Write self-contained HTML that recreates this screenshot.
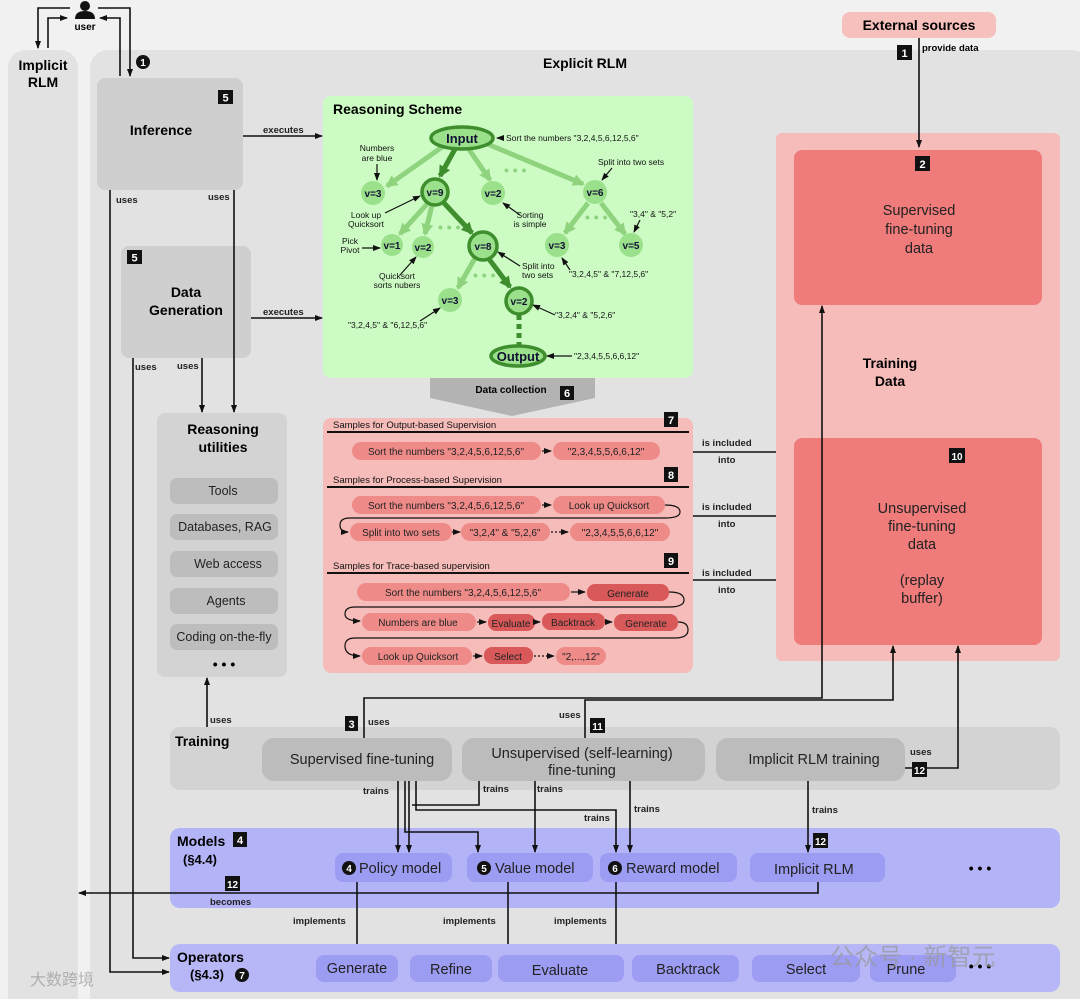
<!DOCTYPE html>
<html><head><meta charset="utf-8"><style>
html,body{margin:0;padding:0;background:#f1f1f1;}
svg{display:block;font-family:"Liberation Sans","Noto Sans CJK SC",sans-serif;}
.b{font-weight:bold}
</style></head><body>
<svg width="1080" height="999" viewBox="0 0 1080 999" xmlns="http://www.w3.org/2000/svg">
<defs>
<marker id="a" markerWidth="8" markerHeight="8" refX="7" refY="4" orient="auto" markerUnits="userSpaceOnUse"><path d="M0,1 L8,4 L0,7 z" fill="#111"/></marker>
<marker id="g" markerWidth="12" markerHeight="12" refX="10" refY="6" orient="auto" markerUnits="userSpaceOnUse"><path d="M0,0 L12,6 L0,12 z" fill="#8fd37e"/></marker>
<marker id="gd" markerWidth="12" markerHeight="12" refX="10" refY="6" orient="auto" markerUnits="userSpaceOnUse"><path d="M0,0 L12,6 L0,12 z" fill="#3e8e2e"/></marker>
</defs>
<rect width="1080" height="999" fill="#f1f1f1"/>
<!-- columns -->
<rect x="8" y="50" width="70" height="970" rx="18" fill="#e2e2e2"/>
<text x="43" y="70" text-anchor="middle" class="b" font-size="14">Implicit</text>
<text x="43" y="87" text-anchor="middle" class="b" font-size="14">RLM</text>
<rect x="90" y="50" width="1000" height="970" rx="18" fill="#e2e2e2"/>
<text x="585" y="68" text-anchor="middle" class="b" font-size="14">Explicit RLM</text>
<!-- user -->
<circle cx="85" cy="6" r="5" fill="#111"/><path d="M75,19 Q75,11 85,11 Q95,11 95,19 z" fill="#111"/>
<text x="85" y="30" text-anchor="middle" class="b" font-size="10">user</text>
<g stroke="#111" stroke-width="1.6" fill="none">
<path d="M70,8 H38 V48" marker-end="url(#a)"/>
<path d="M48,48 V18 H67" marker-end="url(#a)"/>
<path d="M120,76 V18 H100" marker-end="url(#a)"/>
<path d="M98,8 H130 V76" marker-end="url(#a)"/>
</g>
<circle cx="143" cy="62" r="7" fill="#111"/><text x="143" y="66" text-anchor="middle" fill="#fff" class="b" font-size="10">1</text>
<!-- inference -->
<rect x="97" y="78" width="146" height="112" rx="8" fill="#cfcfcf"/>
<text x="161" y="135" text-anchor="middle" class="b" font-size="14">Inference</text>
<rect x="218" y="90" width="15" height="14" fill="#111"/><text x="225.5" y="101.5" text-anchor="middle" fill="#fff" class="b" font-size="11">5</text>
<rect x="121" y="246" width="130" height="112" rx="8" fill="#cfcfcf"/>
<text x="186" y="297" text-anchor="middle" class="b" font-size="14">Data</text>
<text x="186" y="315" text-anchor="middle" class="b" font-size="14">Generation</text>
<rect x="127" y="250" width="15" height="14" fill="#111"/><text x="134.5" y="261.5" text-anchor="middle" fill="#fff" class="b" font-size="11">5</text>
<!-- reasoning utilities -->
<rect x="157" y="413" width="130" height="264" rx="8" fill="#d3d3d3"/>
<text x="223" y="434" text-anchor="middle" class="b" font-size="14">Reasoning</text>
<text x="223" y="452" text-anchor="middle" class="b" font-size="14">utilities</text>
<g fill="#bdbdbd"><rect x="170" y="478" width="108" height="26" rx="7"/><rect x="170" y="514" width="108" height="26" rx="7"/><rect x="170" y="551" width="108" height="26" rx="7"/><rect x="170" y="588" width="108" height="26" rx="7"/><rect x="170" y="624" width="108" height="26" rx="7"/></g>
<g font-size="12.5" text-anchor="middle" fill="#222"><text x="223" y="495">Tools</text><text x="225" y="531">Databases, RAG</text><text x="228" y="568">Web access</text><text x="226" y="605">Agents</text><text x="224" y="641">Coding on-the-fly</text></g>
<text x="224" y="669" text-anchor="middle" class="b" font-size="14">• • •</text>
<!-- left connectors -->
<g stroke="#111" stroke-width="1.6" fill="none">
<path d="M243,136 H322" marker-end="url(#a)"/>
<path d="M251,318 H322" marker-end="url(#a)"/>
<path d="M234,190 V412" marker-end="url(#a)"/>
<path d="M202,358 V412" marker-end="url(#a)"/>
<path d="M110,190 V972 H169" marker-end="url(#a)"/>
<path d="M133,358 V958 H169" marker-end="url(#a)"/>
<path d="M207,727 V678" marker-end="url(#a)"/>
</g>
<g font-size="9.5" class="b" fill="#222">
<text x="263" y="133">executes</text><text x="263" y="315">executes</text>
<text x="116" y="203">uses</text><text x="208" y="200">uses</text>
<text x="135" y="370">uses</text><text x="177" y="369">uses</text>
<text x="210" y="723">uses</text>
</g>
<!-- reasoning scheme -->
<rect x="323" y="96" width="370" height="282" rx="8" fill="#ccfcc4"/>
<text x="333" y="114" class="b" font-size="14">Reasoning Scheme</text>
<g stroke="#8fd37e" stroke-width="5" fill="none">
<line x1="445" y1="145" x2="387" y2="186" marker-end="url(#g)"/>
<line x1="468" y1="148" x2="490" y2="180" marker-end="url(#g)"/>
<line x1="485" y1="143" x2="583" y2="184" marker-end="url(#g)"/>
<line x1="427" y1="204" x2="400" y2="234" marker-end="url(#g)"/>
<line x1="432" y1="205" x2="425" y2="234" marker-end="url(#g)"/>
<line x1="588" y1="203" x2="565" y2="233" marker-end="url(#g)"/>
<line x1="601" y1="203" x2="625" y2="234" marker-end="url(#g)"/>
<line x1="475" y1="258" x2="458" y2="288" marker-end="url(#g)"/>
</g>
<g stroke="#3e8e2e" stroke-width="5" fill="none">
<line x1="455" y1="149" x2="440" y2="176" marker-end="url(#gd)"/>
<line x1="444" y1="203" x2="472" y2="233" marker-end="url(#gd)"/>
<line x1="489" y1="259" x2="510" y2="287" marker-end="url(#gd)"/>
<line x1="519" y1="315" x2="519" y2="345" stroke-dasharray="5,4"/>
</g>
<g fill="#8fd67f"><circle cx="462" cy="168" r="0"/></g>
<g fill="#9be08a">
<circle cx="373" cy="193" r="12"/><circle cx="493" cy="193" r="12"/><circle cx="595" cy="192" r="12"/>
<circle cx="392" cy="245" r="11"/><circle cx="423" cy="247" r="11"/><circle cx="557" cy="245" r="12"/><circle cx="631" cy="245" r="12"/><circle cx="450" cy="300" r="12"/>
</g>
<g fill="#9be08a" stroke="#3e8e2e" stroke-width="3.5">
<ellipse cx="462" cy="138" rx="31" ry="11"/>
<circle cx="435" cy="192" r="13"/><circle cx="483" cy="246" r="14"/><circle cx="519" cy="301" r="13"/>
<ellipse cx="518" cy="356" rx="27" ry="10"/>
</g>
<g class="b" text-anchor="middle" font-size="10" fill="#113">
<text x="462" y="143" font-size="13">Input</text><text x="518" y="361" font-size="13">Output</text>
<text x="373" y="197">v=3</text><text x="435" y="196">v=9</text><text x="493" y="197">v=2</text><text x="595" y="196">v=6</text>
<text x="392" y="249">v=1</text><text x="423" y="251">v=2</text><text x="483" y="250">v=8</text><text x="557" y="249">v=3</text><text x="631" y="249">v=5</text>
<text x="450" y="304">v=3</text><text x="519" y="305">v=2</text>
</g>
<g fill="#8fd37e" font-size="14" class="b"><text x="504" y="175">• • •</text><text x="585" y="222">• • •</text><text x="438" y="232">• • •</text><text x="473" y="280">• • •</text></g>
<g font-size="8.5" fill="#111">
<text x="506" y="141">Sort the numbers "3,2,4,5,6,12,5,6"</text>
<text x="377" y="151" text-anchor="middle">Numbers</text><text x="377" y="161" text-anchor="middle">are blue</text>
<text x="598" y="165">Split into two sets</text>
<text x="366" y="218" text-anchor="middle">Look up</text><text x="366" y="227" text-anchor="middle">Quicksort</text>
<text x="530" y="218" text-anchor="middle">Sorting</text><text x="530" y="227" text-anchor="middle">is simple</text>
<text x="630" y="217">"3,4" &amp; "5,2"</text>
<text x="350" y="244" text-anchor="middle">Pick</text><text x="350" y="253" text-anchor="middle">Pivot</text>
<text x="397" y="279" text-anchor="middle">Quicksort</text><text x="397" y="288" text-anchor="middle">sorts nubers</text>
<text x="522" y="269">Split into</text><text x="522" y="278">two sets</text>
<text x="569" y="277">"3,2,4,5" &amp; "7,12,5,6"</text>
<text x="348" y="328">"3,2,4,5" &amp; "6,12,5,6"</text>
<text x="555" y="318">"3,2,4" &amp; "5,2,6"</text>
<text x="574" y="359">"2,3,4,5,5,6,6,12"</text>
</g>
<g stroke="#111" stroke-width="1.2" fill="none">
<path d="M504,138 H497" marker-end="url(#a)"/>
<path d="M377,164 V180" marker-end="url(#a)"/>
<path d="M612,168 L602,180" marker-end="url(#a)"/>
<path d="M385,213 L420,196" marker-end="url(#a)"/>
<path d="M520,215 L503,203" marker-end="url(#a)"/>
<path d="M640,220 L634,232" marker-end="url(#a)"/>
<path d="M362,248 H380" marker-end="url(#a)"/>
<path d="M400,275 L416,257" marker-end="url(#a)"/>
<path d="M520,266 L498,252" marker-end="url(#a)"/>
<path d="M570,270 L562,258" marker-end="url(#a)"/>
<path d="M420,321 L440,308" marker-end="url(#a)"/>
<path d="M555,315 L533,305" marker-end="url(#a)"/>
<path d="M572,356 H547" marker-end="url(#a)"/>
</g>
<!-- data collection arrow -->
<path d="M430,378 H595 V398 L512,416 L430,398 z" fill="#b3b3b3"/>
<text x="511" y="393" text-anchor="middle" class="b" font-size="10">Data collection</text>
<rect x="560" y="386" width="14" height="14" fill="#111"/><text x="567" y="397" text-anchor="middle" fill="#fff" class="b" font-size="11">6</text>
<!-- samples -->
<rect x="323" y="418" width="370" height="255" rx="8" fill="#f5bcb9"/>
<g font-size="9.5" fill="#111">
<text x="333" y="428">Samples for Output-based Supervision</text>
<text x="333" y="483">Samples for Process-based Supervision</text>
<text x="333" y="569">Samples for Trace-based supervision</text>
</g>
<g stroke="#111" stroke-width="2"><line x1="327" y1="432" x2="689" y2="432"/><line x1="327" y1="487" x2="689" y2="487"/><line x1="327" y1="573" x2="689" y2="573"/></g>
<g fill="#111"><rect x="664" y="412" width="14" height="15"/><rect x="664" y="467" width="14" height="15"/><rect x="664" y="553" width="14" height="15"/></g>
<g fill="#fff" class="b" font-size="11" text-anchor="middle"><text x="671" y="424">7</text><text x="671" y="479">8</text><text x="671" y="565">9</text></g>
<g fill="#ee8b89">
<rect x="352" y="442" width="189" height="18" rx="9"/><rect x="553" y="442" width="107" height="18" rx="9"/>
<rect x="352" y="496" width="189" height="18" rx="9"/><rect x="553" y="496" width="112" height="18" rx="9"/>
<rect x="350" y="523" width="102" height="18" rx="9"/><rect x="461" y="523" width="89" height="18" rx="9"/><rect x="570" y="523" width="100" height="18" rx="9"/>
<rect x="357" y="583" width="213" height="18" rx="9"/><rect x="362" y="613" width="114" height="18" rx="9"/><rect x="362" y="647" width="110" height="18" rx="9"/><rect x="556" y="647" width="50" height="18" rx="9"/>
</g>
<g fill="#d9595a">
<rect x="587" y="584" width="82" height="17" rx="8"/><rect x="488" y="614" width="47" height="17" rx="8"/><rect x="542" y="613" width="63" height="17" rx="8"/><rect x="614" y="614" width="64" height="17" rx="8"/><rect x="484" y="647" width="49" height="17" rx="8"/>
</g>
<g font-size="10" fill="#222" text-anchor="middle">
<text x="446" y="455">Sort the numbers "3,2,4,5,6,12,5,6"</text><text x="606" y="455">"2,3,4,5,5,6,6,12"</text>
<text x="446" y="509">Sort the numbers "3,2,4,5,6,12,5,6"</text><text x="609" y="509">Look up Quicksort</text>
<text x="401" y="536">Split into two sets</text><text x="505" y="536">"3,2,4" &amp; "5,2,6"</text><text x="620" y="536">"2,3,4,5,5,6,6,12"</text>
<text x="463" y="596">Sort the numbers "3,2,4,5,6,12,5,6"</text><text x="628" y="597">Generate</text>
<text x="418" y="626">Numbers are blue</text><text x="511" y="627">Evaluate</text><text x="573" y="626">Backtrack</text><text x="646" y="627">Generate</text>
<text x="418" y="660">Look up Quicksort</text><text x="508" y="660">Select</text><text x="581" y="660">"2,...,12"</text>
</g>
<g stroke="#111" stroke-width="1.2" fill="none">
<path d="M542,451 H551" marker-end="url(#a)"/><path d="M542,505 H551" marker-end="url(#a)"/>
<path d="M665,505 Q680,505 680,512 Q680,518 665,518 H350 Q340,518 340,525 Q340,532 348,532" marker-end="url(#a)"/>
<path d="M452,532 H460" marker-end="url(#a)"/><path d="M551,532 H568" stroke-dasharray="2,2" marker-end="url(#a)"/>
<path d="M571,592 H585" marker-end="url(#a)"/>
<path d="M669,592 Q684,592 684,600 Q684,607 669,607 H355 Q345,607 345,614 Q345,621 360,621" marker-end="url(#a)"/>
<path d="M477,622 H486" marker-end="url(#a)"/><path d="M535,622 H540" marker-end="url(#a)"/><path d="M605,622 H612" marker-end="url(#a)"/>
<path d="M678,622 Q688,622 688,630 Q688,638 675,638 H355 Q345,638 345,646 Q345,656 360,656" marker-end="url(#a)"/>
<path d="M473,656 H482" marker-end="url(#a)"/><path d="M534,656 H554" stroke-dasharray="2,2" marker-end="url(#a)"/>
</g>
<!-- included into -->
<g stroke="#111" stroke-width="1.6" fill="none">
<path d="M693,452 H793" marker-end="url(#a)"/><path d="M693,516 H793" marker-end="url(#a)"/><path d="M693,580 H793" marker-end="url(#a)"/>
</g>
<g font-size="9.5" class="b" fill="#222">
<text x="702" y="446">is included</text><text x="718" y="463">into</text>
<text x="702" y="510">is included</text><text x="718" y="527">into</text>
<text x="702" y="576">is included</text><text x="718" y="593">into</text>
</g>
<!-- external & training data -->
<rect x="842" y="12" width="154" height="26" rx="8" fill="#f6c0bd"/>
<text x="919" y="30" text-anchor="middle" class="b" font-size="14">External sources</text>
<rect x="897" y="45" width="15" height="15" fill="#111"/><text x="904.5" y="57" text-anchor="middle" fill="#fff" class="b" font-size="11">1</text>
<text x="922" y="51" class="b" font-size="9.5">provide data</text>
<rect x="776" y="133" width="284" height="528" rx="6" fill="#f5bcb9"/>
<rect x="794" y="150" width="248" height="155" rx="8" fill="#ef7b7b"/>
<rect x="794" y="438" width="248" height="207" rx="8" fill="#ef7b7b"/>
<rect x="915" y="156" width="15" height="15" fill="#111"/><text x="922.5" y="168" text-anchor="middle" fill="#fff" class="b" font-size="11">2</text>
<rect x="949" y="448" width="16" height="15" fill="#111"/><text x="957" y="460" text-anchor="middle" fill="#fff" class="b" font-size="10">10</text>
<g text-anchor="middle" font-size="14.5" fill="#222">
<text x="919" y="215">Supervised</text><text x="919" y="234">fine-tuning</text><text x="919" y="253">data</text>
<text x="922" y="513">Unsupervised</text><text x="922" y="531">fine-tuning</text><text x="922" y="549">data</text>
<text x="922" y="585">(replay</text><text x="922" y="603">buffer)</text>
</g>
<text x="890" y="368" text-anchor="middle" class="b" font-size="14">Training</text>
<text x="890" y="386" text-anchor="middle" class="b" font-size="14">Data</text>
<!-- training row -->
<rect x="170" y="727" width="890" height="63" rx="10" fill="#d3d3d3"/>
<text x="175" y="746" class="b" font-size="14">Training</text>
<g fill="#bcbcbc"><rect x="262" y="738" width="190" height="43" rx="12"/><rect x="462" y="738" width="243" height="43" rx="12"/><rect x="716" y="738" width="189" height="43" rx="12"/></g>
<g text-anchor="middle" font-size="14.5" fill="#222">
<text x="362" y="764">Supervised fine-tuning</text>
<text x="582" y="758">Unsupervised (self-learning)</text><text x="582" y="775">fine-tuning</text>
<text x="814" y="764">Implicit RLM training</text>
</g>
<g stroke="#111" stroke-width="1.6" fill="none">
<path d="M919,38 V147" marker-end="url(#a)"/>
<path d="M364,738 V698 H822 V306" marker-end="url(#a)"/>
<path d="M585,738 V700 H893 V646" marker-end="url(#a)"/>
<path d="M905,768 H958 V646" marker-end="url(#a)"/>
</g>
<rect x="345" y="716" width="13" height="15" fill="#111"/><text x="351.5" y="728" text-anchor="middle" fill="#fff" class="b" font-size="11">3</text>
<rect x="590" y="718" width="15" height="15" fill="#111"/><text x="597.5" y="730" text-anchor="middle" fill="#fff" class="b" font-size="10">11</text>
<rect x="912" y="762" width="15" height="15" fill="#111"/><text x="919.5" y="774" text-anchor="middle" fill="#fff" class="b" font-size="10">12</text>
<g font-size="9.5" class="b" fill="#222"><text x="368" y="725">uses</text><text x="559" y="718">uses</text><text x="910" y="755">uses</text></g>
<!-- models -->
<rect x="170" y="828" width="890" height="80" rx="10" fill="#b3b3f7"/>
<text x="177" y="846" class="b" font-size="14">Models</text><text x="183" y="864" class="b" font-size="13">(§4.4)</text>
<rect x="233" y="832" width="14" height="15" fill="#111"/><text x="240" y="844" text-anchor="middle" fill="#fff" class="b" font-size="11">4</text>
<g fill="#9c9cf3"><rect x="335" y="853" width="117" height="29" rx="8"/><rect x="467" y="853" width="126" height="29" rx="8"/><rect x="600" y="853" width="137" height="29" rx="8"/><rect x="750" y="853" width="135" height="29" rx="8"/></g>
<g fill="#111"><circle cx="349" cy="868" r="7"/><circle cx="484" cy="868" r="7"/><circle cx="615" cy="868" r="7"/></g>
<g fill="#fff" class="b" font-size="10" text-anchor="middle"><text x="349" y="872">4</text><text x="484" y="872">5</text><text x="615" y="872">6</text></g>
<g font-size="14.5" fill="#222"><text x="359" y="873">Policy model</text><text x="495" y="873">Value model</text><text x="626" y="873">Reward model</text><text x="774" y="874">Implicit RLM</text></g>
<text x="980" y="873" text-anchor="middle" class="b" font-size="14">• • •</text>
<g stroke="#111" stroke-width="1.6" fill="none">
<path d="M398,781 V852" marker-end="url(#a)"/>
<path d="M405,781 V832 H478 V852" marker-end="url(#a)"/>
<path d="M409,781 V852" marker-end="url(#a)"/>
<path d="M416,781 V810 H616 V852" marker-end="url(#a)"/>
<path d="M479,781 V805 H412"/>
<path d="M535,781 V852" marker-end="url(#a)"/>
<path d="M630,781 V852" marker-end="url(#a)"/>
<path d="M808,781 V852" marker-end="url(#a)"/>
<path d="M818,882 V893 H79" marker-end="url(#a)"/>
<path d="M357,882 V954" marker-end="url(#a)"/>
<path d="M508,882 V954" marker-end="url(#a)"/>
<path d="M616,882 V954" marker-end="url(#a)"/>
</g>
<g font-size="9.5" class="b" fill="#222">
<text x="363" y="794">trains</text><text x="483" y="792">trains</text><text x="537" y="792">trains</text>
<text x="634" y="812">trains</text><text x="584" y="821">trains</text><text x="812" y="813">trains</text>
<text x="210" y="905">becomes</text>
<text x="293" y="924">implements</text><text x="443" y="924">implements</text><text x="554" y="924">implements</text>
</g>
<rect x="225" y="876" width="15" height="15" fill="#111"/><text x="232.5" y="888" text-anchor="middle" fill="#fff" class="b" font-size="10">12</text>
<rect x="813" y="833" width="15" height="15" fill="#111"/><text x="820.5" y="845" text-anchor="middle" fill="#fff" class="b" font-size="10">12</text>
<!-- operators -->
<rect x="170" y="944" width="890" height="48" rx="10" fill="#b7b7f7"/>
<text x="177" y="962" class="b" font-size="14">Operators</text><text x="190" y="979" class="b" font-size="13">(§4.3)</text>
<circle cx="242" cy="975" r="7" fill="#111"/><text x="242" y="979" text-anchor="middle" fill="#fff" class="b" font-size="10">7</text>
<g fill="#9c9cf3"><rect x="316" y="955" width="82" height="27" rx="8"/><rect x="410" y="955" width="82" height="27" rx="8"/><rect x="498" y="955" width="126" height="27" rx="8"/><rect x="632" y="955" width="107" height="27" rx="8"/><rect x="752" y="955" width="108" height="27" rx="8"/><rect x="870" y="955" width="86" height="27" rx="8"/></g>
<g font-size="14.5" fill="#222" text-anchor="middle"><text x="357" y="973">Generate</text><text x="451" y="974">Refine</text><text x="560" y="975">Evaluate</text><text x="688" y="974">Backtrack</text><text x="806" y="974">Select</text><text x="906" y="974">Prune</text></g>
<text x="980" y="971" text-anchor="middle" class="b" font-size="14">• • •</text>
<g fill="#999" opacity="0.7" font-size="24"><text x="830" y="965">公众号 · 新智元</text></g>
<g fill="#999" opacity="0.7" font-size="16"><text x="30" y="985">大数跨境</text></g>
</svg>
</body></html>
